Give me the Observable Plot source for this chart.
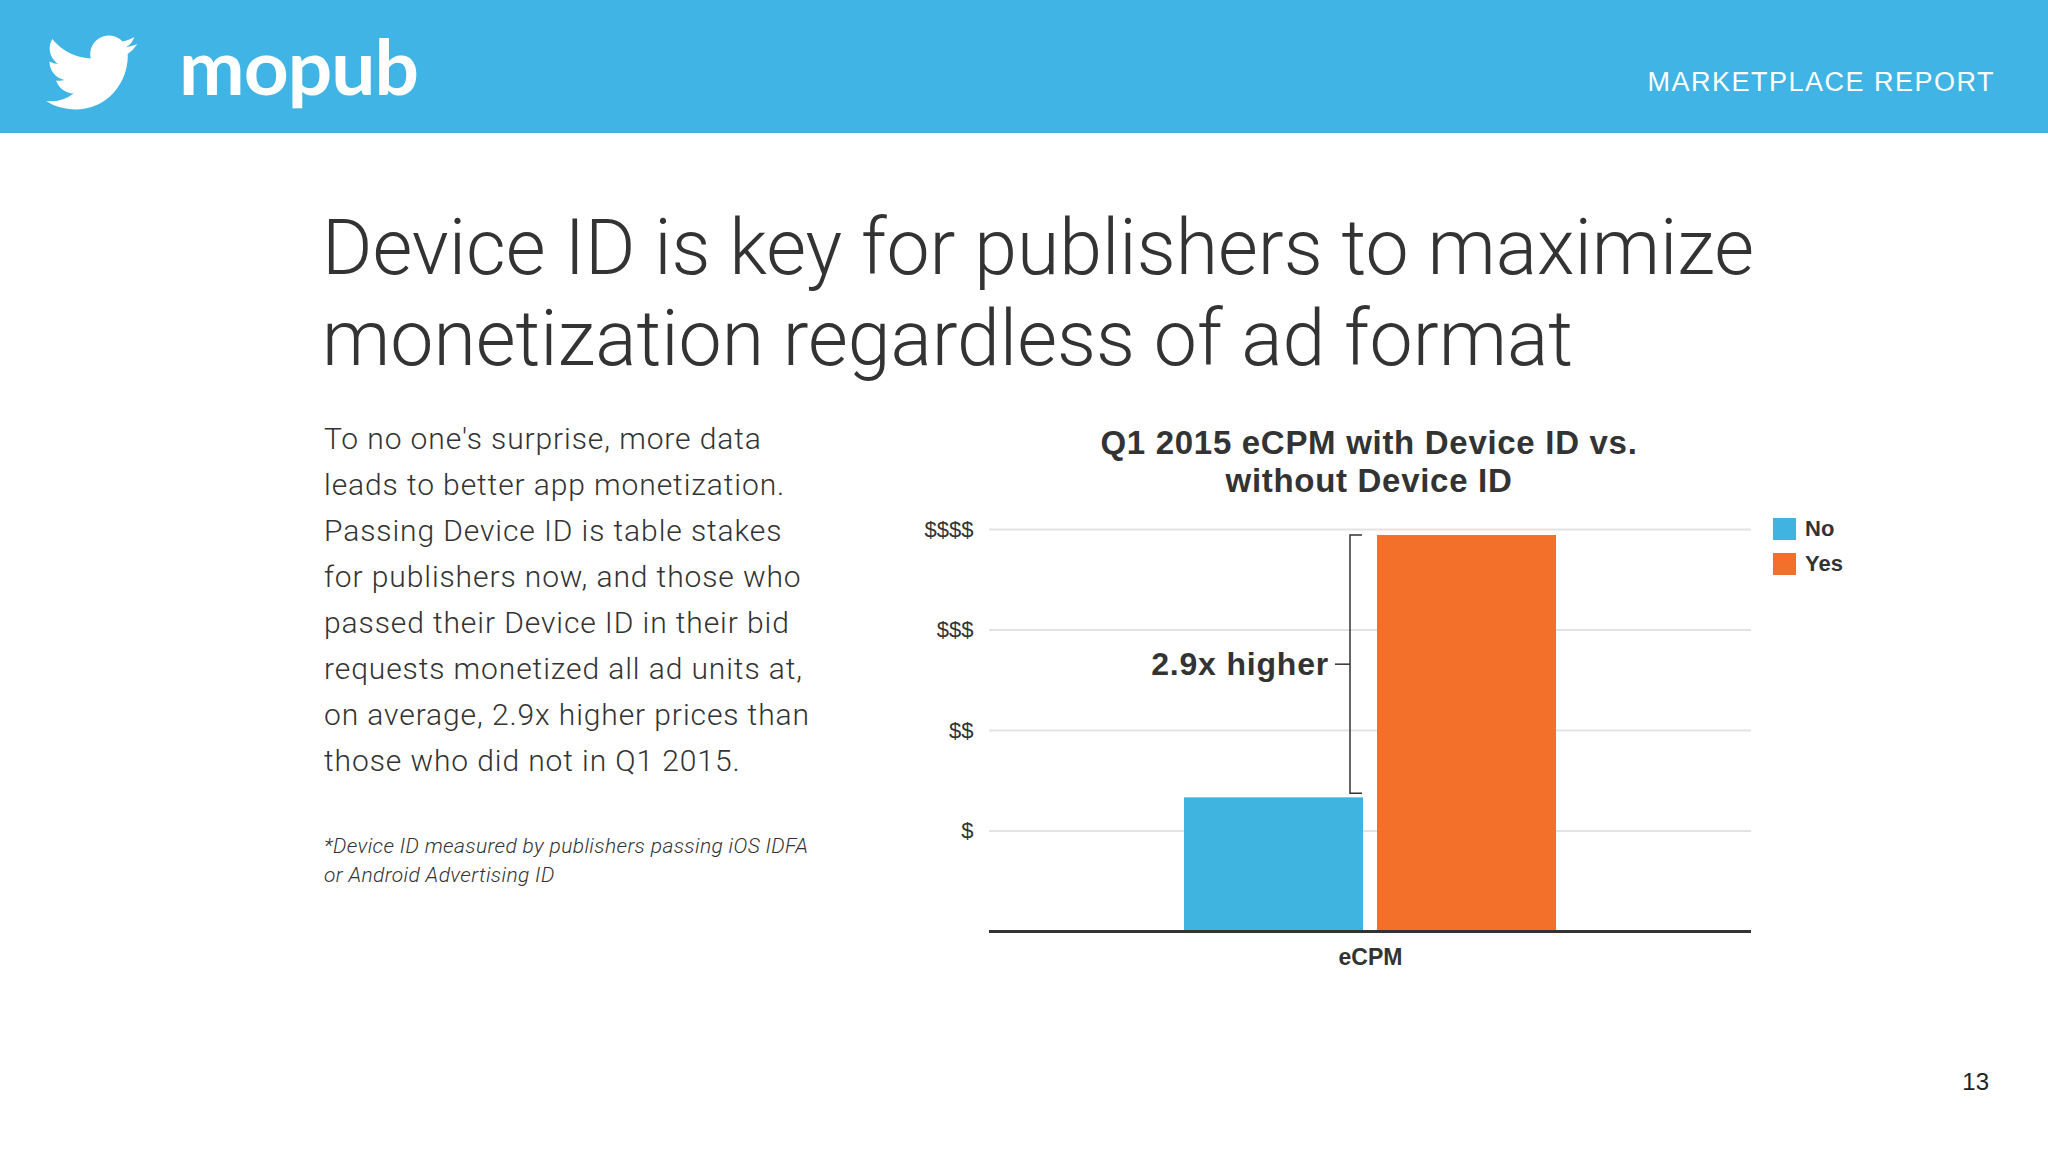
<!DOCTYPE html>
<html><head><meta charset="utf-8">
<script src="https://cdn.jsdelivr.net/npm/d3@7"></script>
<script src="https://cdn.jsdelivr.net/npm/@observablehq/plot@0.6"></script>
<style>
html,body{margin:0;padding:0;background:#fff;}
#page{position:relative;width:2048px;height:1152px;overflow:hidden;background:#fff;font-family:"Liberation Sans",Arial,sans-serif;color:#333;}
#header{position:absolute;left:0;top:0;width:2048px;height:133px;background:#40B4E4;}
#bird{position:absolute;left:46px;top:27px;width:91px;height:91px;}
#logo{position:absolute;left:179px;top:27px;font-family:Lato,sans-serif;font-weight:700;font-size:77px;line-height:77px;color:#fff;letter-spacing:-1px;white-space:nowrap;transform-origin:left top;}
#report{position:absolute;right:53px;top:69px;font-size:27px;line-height:27px;color:#fff;letter-spacing:1.5px;white-space:nowrap;}
#title{position:absolute;left:322px;top:203px;font-family:Roboto,sans-serif;font-weight:300;font-size:77px;line-height:91px;color:#333;white-space:nowrap;}
#body{position:absolute;left:324px;top:416px;font-family:Roboto,sans-serif;font-weight:300;font-size:30px;line-height:46px;letter-spacing:0.9px;color:#333;white-space:nowrap;}
#note{position:absolute;left:324px;top:832px;font-family:Roboto,sans-serif;font-weight:300;font-style:italic;font-size:21px;line-height:29px;letter-spacing:0.36px;color:#333;white-space:nowrap;}
#ctitle{position:absolute;left:1019px;top:424px;width:700px;text-align:center;font-weight:bold;font-size:33px;line-height:38px;letter-spacing:0.7px;color:#333;}
#chart{position:absolute;left:900px;top:500px;}
#legend{position:absolute;left:1773px;top:518px;}
.li{display:flex;align-items:center;height:22px;margin-bottom:13px;font-weight:bold;font-size:22px;color:#333;}
.sw{width:23px;height:22px;margin-right:9px;}
#pnum{position:absolute;right:59px;top:1070px;font-size:24px;line-height:24px;color:#222;}
</style></head><body>
<div id="page">
  <div id="header">
    <svg id="bird" viewBox="0 0 24 24"><path fill="#fff" d="M23.953 4.57a10 10 0 01-2.825.775 4.958 4.958 0 002.163-2.723c-.951.555-2.005.959-3.127 1.184a4.92 4.92 0 00-8.384 4.482C7.69 8.095 4.067 6.13 1.64 3.162a4.822 4.822 0 00-.666 2.475c0 1.71.87 3.213 2.188 4.096a4.904 4.904 0 01-2.228-.616v.06a4.923 4.923 0 003.946 4.827 4.996 4.996 0 01-2.212.085 4.936 4.936 0 004.604 3.417 9.867 9.867 0 01-6.102 2.105c-.39 0-.779-.023-1.170-.067a13.995 13.995 0 007.557 2.209c9.053 0 13.998-7.496 13.998-13.985 0-.21 0-.42-.015-.63A9.935 9.935 0 0024 4.59z"/></svg>
    <div id="logo">mopub</div>
    <div id="report">MARKETPLACE REPORT</div>
  </div>
  <div id="title"></div>
  <div id="body"></div>
  <div id="note"></div>
  <div id="ctitle"></div>
  <div id="chart"></div>
  <div id="legend"></div>
  <div id="pnum">13</div>
</div>
<script>
// ---- data ----
const series = ["No", "Yes"];
const ecpmValues = [1.33, 3.94];
const seriesColors = ["#40B4E1", "#F27029"];
const categories = ["eCPM"];
const yTickValues = [1, 2, 3, 4];
const yTickLabels = ["$", "$$", "$$$", "$$$$"];
const annotationLabel = ["2.9x higher"];
const chartTitleLines = ["Q1 2015 eCPM with Device ID vs.", "without Device ID"];
const pageTitleLines = ["Device ID is key for publishers to maximize", "monetization regardless of ad format"];
const bodyLines = [
  "To no one's surprise, more data",
  "leads to better app monetization.",
  "Passing Device ID is table stakes",
  "for publishers now, and those who",
  "passed their Device ID in their bid",
  "requests monetized all ad units at,",
  "on average, 2.9x higher prices than",
  "those who did not in Q1 2015."
];
const noteLines = ["*Device ID measured by publishers passing iOS IDFA", "or Android Advertising ID"];

// ---- text blocks ----
document.getElementById("title").innerHTML = pageTitleLines.join("<br>");
document.getElementById("body").innerHTML = bodyLines.join("<br>");
document.getElementById("note").innerHTML = noteLines.join("<br>");
document.getElementById("ctitle").innerHTML = chartTitleLines.join("<br>");

// fit the wordmark width
const logo = document.getElementById("logo");
const lw = logo.getBoundingClientRect().width;
logo.style.transform = `scaleX(${239 / lw})`;

// ---- legend ----
const legend = document.getElementById("legend");
series.forEach((s, i) => {
  const row = document.createElement("div");
  row.className = "li";
  const sw = document.createElement("div");
  sw.className = "sw";
  sw.style.background = seriesColors[i];
  row.appendChild(sw);
  row.appendChild(document.createTextNode(s));
  legend.appendChild(row);
});

// ---- chart ----
const data = series.map((s, i) => ({series: s, value: ecpmValues[i]}));

function bracketMark(index, scales) {
  const x = scales.x, y = scales.y;
  const right = x(series[0]) + x.bandwidth();
  const vx = right - 13;
  const top = y(ecpmValues[1]);
  const bottom = y(ecpmValues[0]) - 4;
  const mid = (top + bottom) / 2;
  const g = d3.create("svg:g").attr("fill", "none").attr("stroke", "#333").attr("stroke-width", 1.5);
  g.append("path").attr("d", `M${right - 1},${top}H${vx}V${bottom}H${right - 1}`);
  g.append("path").attr("d", `M${vx},${mid}H${vx - 15}`);
  g.append("text")
    .attr("x", vx - 21).attr("y", mid).attr("dy", "0.35em")
    .attr("text-anchor", "end").attr("fill", "#333").attr("stroke", "none")
    .attr("font-size", 32).attr("font-weight", "bold").attr("letter-spacing", "0.8px")
    .text(annotationLabel[0]);
  return g.node();
}

const chart = Plot.plot({
  width: 1000,
  height: 480,
  marginLeft: 89,
  marginRight: 149,
  marginTop: 29,
  marginBottom: 49,
  x: {domain: series, paddingInner: 0.072, paddingOuter: 1.0, axis: null},
  y: {domain: [0, 4], axis: null},
  color: {domain: series, range: seriesColors},
  style: {fontFamily: '"Liberation Sans", Arial, sans-serif', color: "#333", background: "transparent", overflow: "visible"},
  marks: [
    Plot.ruleY(yTickValues, {stroke: "#e3e3e6", strokeWidth: 2}),
    Plot.text(yTickValues, {y: d => d, frameAnchor: "left", textAnchor: "end", dx: -16, text: (d, i) => yTickLabels[i], fontSize: 22, fill: "#333"}),
    Plot.barY(data, {x: "series", y: "value", fill: "series"}),
    Plot.ruleY([0], {stroke: "#333", strokeWidth: 3}),
    Plot.text(categories, {frameAnchor: "bottom", text: d => d, dy: 33, fontSize: 23, fontWeight: "bold", fill: "#333"}),
    bracketMark
  ]
});
document.getElementById("chart").appendChild(chart);
</script>
</body></html>
